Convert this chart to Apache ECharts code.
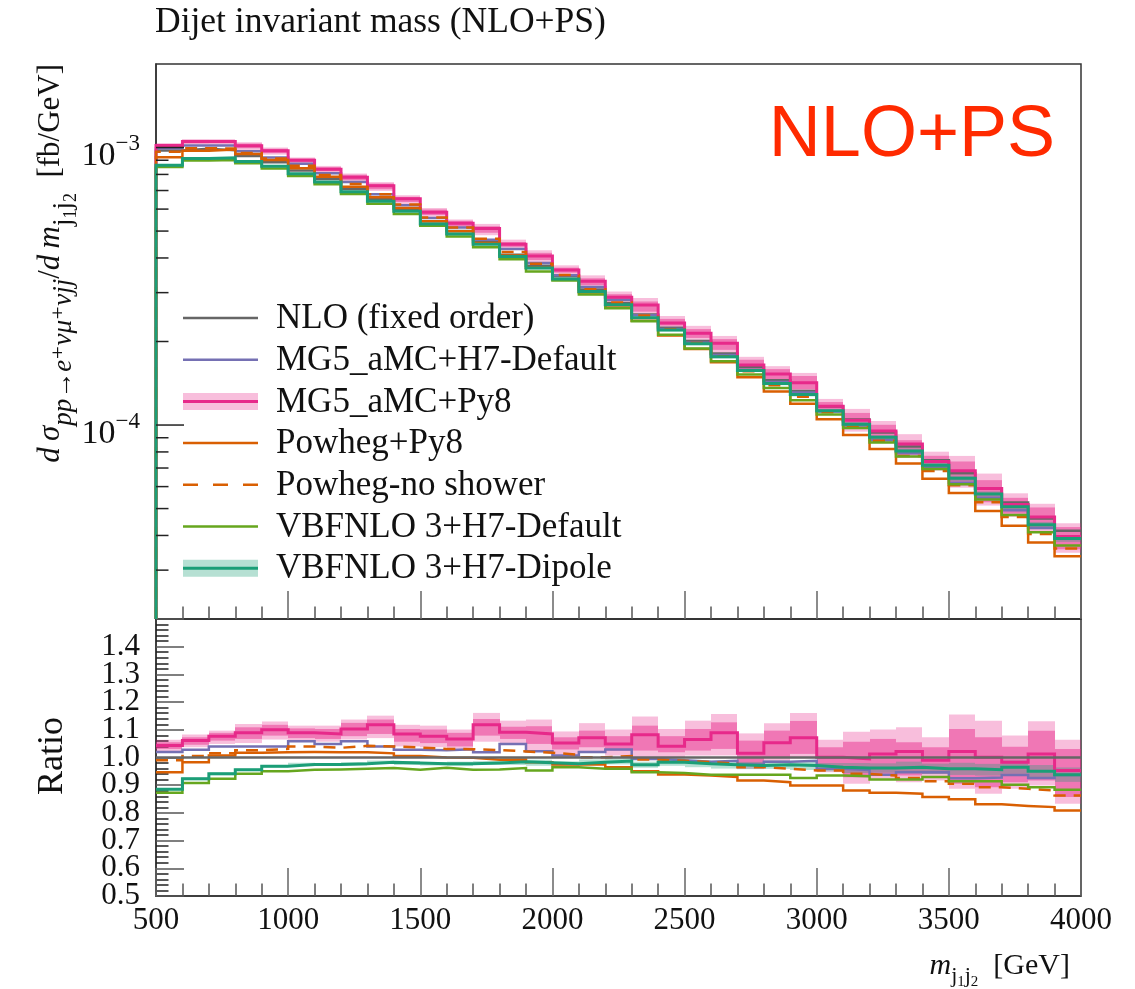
<!DOCTYPE html>
<html>
<head>
<meta charset="utf-8">
<title>Dijet invariant mass (NLO+PS)</title>
<script src="https://cdn.jsdelivr.net/npm/echarts@6/dist/echarts.min.js"></script>
<style>
  html, body { margin: 0; padding: 0; background: #ffffff; }
  #chart { width: 1135px; height: 989px; }
</style>
</head>
<body>
<div id="chart"></div>
<script>
// Bin edges of the m_j1j2 histogram [GeV]
const BIN_EDGES = [500, 600, 700, 800, 900, 1000, 1100, 1200, 1300, 1400, 1500, 1600,
  1700, 1800, 1900, 2000, 2100, 2200, 2300, 2400, 2500, 2600, 2700, 2800,
  2900, 3000, 3100, 3200, 3300, 3400, 3500, 3600, 3700, 3800, 3900, 4000];

// NLO fixed-order reference, d sigma / d m_j1j2 [fb/GeV]
const NLO = [9.75e-4, 9.90e-4, 9.77e-4, 9.32e-4, 8.85e-4, 8.26e-4, 7.70e-4,
  7.09e-4, 6.52e-4, 6.02e-4, 5.43e-4, 5.00e-4, 4.57e-4, 4.11e-4,
  3.75e-4, 3.44e-4, 3.08e-4, 2.75e-4, 2.50e-4, 2.24e-4, 2.01e-4,
  1.81e-4, 1.62e-4, 1.45e-4, 1.327e-4, 1.167e-4, 1.046e-4, 9.39e-5,
  8.36e-5, 7.47e-5, 6.70e-5, 5.90e-5, 5.26e-5, 4.60e-5, 4.16e-5];

// Ratios to the NLO prediction
const R_MG5_H7 = [1.020, 1.028, 1.040, 1.040, 1.040, 1.059, 1.049,
  1.059, 1.040, 1.028, 1.026, 1.030, 1.019, 1.049,
  1.023, 1.007, 1.020, 1.029, 0.995, 0.990, 0.985,
  0.988, 0.975, 0.985, 0.988, 0.959, 0.955, 0.938,
  0.947, 0.947, 0.925, 0.928, 0.937, 0.926, 0.937];

const R_MG5_PY8 = [1.043, 1.061, 1.077, 1.089, 1.100, 1.089, 1.085,
  1.103, 1.118, 1.085, 1.077, 1.067, 1.118, 1.091,
  1.085, 1.052, 1.071, 1.049, 1.082, 1.041, 1.065,
  1.089, 1.015, 1.053, 1.071, 1.001, 0.995, 1.013,
  1.022, 0.990, 1.022, 1.001, 0.983, 1.013, 0.953];

// MG5_aMC+Py8 uncertainty envelopes (outer and inner)
const R_MG5_PY8_OUT_LO = [1.021, 1.037, 1.049, 1.052, 1.065, 1.057, 1.057,
  1.065, 1.070, 1.040, 1.037, 1.025, 1.057, 1.049,
  1.025, 1.010, 1.019, 1.007, 1.001, 1.001, 1.007,
  1.007, 0.959, 0.983, 0.997, 0.947, 0.905, 0.923,
  0.911, 0.917, 0.887, 0.869, 0.887, 0.899, 0.833];
const R_MG5_PY8_OUT_HI = [1.064, 1.083, 1.097, 1.121, 1.130, 1.115, 1.115,
  1.137, 1.151, 1.118, 1.115, 1.101, 1.161, 1.133,
  1.137, 1.094, 1.124, 1.101, 1.148, 1.103, 1.133,
  1.157, 1.087, 1.124, 1.161, 1.064, 1.093, 1.101,
  1.109, 1.073, 1.155, 1.133, 1.079, 1.131, 1.064];
const R_MG5_PY8_IN_LO = [1.031, 1.046, 1.061, 1.067, 1.079, 1.070, 1.067,
  1.077, 1.085, 1.057, 1.052, 1.040, 1.079, 1.067,
  1.049, 1.029, 1.037, 1.025, 1.025, 1.019, 1.025,
  1.031, 0.977, 1.000, 1.013, 0.965, 0.929, 0.941,
  0.935, 0.941, 0.905, 0.893, 0.911, 0.917, 0.857];
const R_MG5_PY8_IN_HI = [1.055, 1.073, 1.089, 1.109, 1.118, 1.105, 1.103,
  1.125, 1.137, 1.103, 1.101, 1.089, 1.139, 1.111,
  1.113, 1.073, 1.097, 1.077, 1.115, 1.077, 1.103,
  1.127, 1.061, 1.097, 1.132, 1.037, 1.057, 1.067,
  1.055, 1.037, 1.103, 1.073, 1.039, 1.097, 1.031];

const R_POWHEG_PY8 = [0.947, 0.983, 1.007, 1.017, 1.019, 1.020, 1.019,
  1.019, 1.015, 1.005, 1.000, 0.999, 0.992, 0.993,
  0.983, 0.975, 0.975, 0.965, 0.950, 0.939, 0.935,
  0.930, 0.917, 0.911, 0.899, 0.899, 0.881, 0.873,
  0.869, 0.857, 0.849, 0.831, 0.825, 0.821, 0.809];

const R_POWHEG_NOSHOWER = [0.990, 1.005, 1.015, 1.026, 1.031, 1.040, 1.035,
  1.042, 1.040, 1.036, 1.031, 1.030, 1.027, 1.022,
  1.017, 1.010, 1.001, 1.005, 0.993, 0.988, 0.983,
  0.977, 0.965, 0.959, 0.953, 0.953, 0.941, 0.935,
  0.926, 0.914, 0.905, 0.893, 0.887, 0.881, 0.863];

const R_VBFNLO_DEFAULT = [0.873, 0.908, 0.923, 0.941, 0.950, 0.956, 0.957,
  0.959, 0.962, 0.956, 0.963, 0.956, 0.957, 0.962,
  0.953, 0.965, 0.959, 0.959, 0.947, 0.944, 0.938,
  0.938, 0.938, 0.938, 0.926, 0.935, 0.932, 0.921,
  0.921, 0.930, 0.914, 0.914, 0.902, 0.893, 0.884];

const R_VBFNLO_DIPOLE = [0.885, 0.923, 0.941, 0.956, 0.968, 0.975, 0.975,
  0.977, 0.983, 0.980, 0.977, 0.977, 0.980, 0.985,
  0.981, 0.977, 0.983, 0.987, 0.974, 0.983, 0.977,
  0.974, 0.971, 0.974, 0.971, 0.965, 0.962, 0.962,
  0.965, 0.959, 0.959, 0.956, 0.965, 0.950, 0.938];

// half width of the VBFNLO 3+H7-Dipole uncertainty band
const R_VBFNLO_DIPOLE_ERR = [0.004, 0.005, 0.005, 0.004, 0.005, 0.006, 0.005,
  0.006, 0.006, 0.007, 0.006, 0.008, 0.007, 0.012,
  0.011, 0.009, 0.010, 0.012, 0.011, 0.013, 0.012,
  0.014, 0.013, 0.015, 0.016, 0.015, 0.018, 0.017,
  0.020, 0.019, 0.022, 0.021, 0.024, 0.023, 0.026];

// Axis ranges and tick values
const X_MIN = 500, X_MAX = 4000, X_STEP = 500;
const Y_MIN = 2e-5, Y_MAX = 2e-3;
const LOG_MAJOR_TICKS = [1e-4, 1e-3];
const LOG_MINOR_TICKS = [3e-5, 4e-5, 5e-5, 6e-5, 7e-5, 8e-5, 9e-5,
  2e-4, 3e-4, 4e-4, 5e-4, 6e-4, 7e-4, 8e-4, 9e-4];
const RATIO_MIN = 0.5, RATIO_MAX = 1.5, RATIO_STEP = 0.1;
const RATIO_TICK_LABELS = ['0.5', '0.6', '0.7', '0.8', '0.9', '1.0', '1.1', '1.2', '1.3', '1.4'];

const LEGEND_LABELS = ['NLO (fixed order)', 'MG5_aMC+H7-Default', 'MG5_aMC+Py8',
  'Powheg+Py8', 'Powheg-no shower', 'VBFNLO 3+H7-Default', 'VBFNLO 3+H7-Dipole'];

// ---------------------------------------------------------------------------
const SERIF = "'Liberation Serif', 'DejaVu Serif', serif";
const PINK = '#e7298a', TEAL = '#1b9e77';
const PINK_BAND = 'rgba(231,41,138,0.30)';
const PINK_BAND_IN = 'rgba(231,41,138,0.48)';
const TEAL_BAND = 'rgba(27,158,119,0.32)';

const CURVES = [
  { ratio: NLO.map(() => 1), color: '#666666', width: 2.5 },
  { ratio: R_MG5_H7, color: '#7570b3', width: 2.5 },
  { ratio: R_MG5_PY8, color: PINK, width: 3, band: PINK_BAND },
  { ratio: R_POWHEG_PY8, color: '#d95f02', width: 2.5 },
  { ratio: R_POWHEG_NOSHOWER, color: '#d95f02', width: 2.5, dash: [12, 8] },
  { ratio: R_VBFNLO_DEFAULT, color: '#66a61e', width: 2.5 },
  { ratio: R_VBFNLO_DIPOLE, color: TEAL, width: 3, band: TEAL_BAND }
];

const times = (a, b) => a.map((v, i) => v * b[i]);

// histogram outline as left-edge points for a step line
function stepPoints(vals, lead) {
  const pts = [];
  if (lead !== undefined) pts.push([BIN_EDGES[0], lead]);
  vals.forEach((v, i) => pts.push([BIN_EDGES[i], v]));
  pts.push([BIN_EDGES[vals.length], vals[vals.length - 1]]);
  return pts;
}

function bandItems(lo, hi) {
  return lo.map((l, i) => [BIN_EDGES[i], BIN_EDGES[i + 1], l, hi[i]]);
}

function bandSeries(items, color, gi, z) {
  return {
    type: 'custom', xAxisIndex: gi, yAxisIndex: gi, data: items, silent: true, z,
    encode: { x: [0, 1], y: [2, 3] },
    renderItem(params, api) {
      const a = api.coord([api.value(0), api.value(3)]);
      const b = api.coord([api.value(1), api.value(2)]);
      const x0 = Math.round(a[0]), x1 = Math.round(b[0]);
      return { type: 'rect', shape: { x: x0, y: a[1], width: x1 - x0, height: b[1] - a[1] },
        style: { fill: color } };
    }
  };
}

function lineSeries(points, c, gi, z) {
  return {
    type: 'line', step: 'end', xAxisIndex: gi, yAxisIndex: gi, data: points,
    showSymbol: false, symbol: 'none', silent: true, clip: true, z,
    lineStyle: { color: c.color, width: c.width, type: c.dash || 'solid', cap: 'butt', join: 'miter' }
  };
}

function logTickSeries(values, len, color) {
  return {
    type: 'custom', xAxisIndex: 0, yAxisIndex: 0, silent: true, z: 30,
    data: values.map(v => [X_MIN, v]), encode: { x: 0, y: 1 },
    renderItem(params, api) {
      const p = api.coord([api.value(0), api.value(1)]);
      return { type: 'line', shape: { x1: p[0], y1: p[1], x2: p[0] + len, y2: p[1] },
        style: { stroke: color, lineWidth: 1.5 } };
    }
  };
}

// ratio-axis tick labels, placed at their values on the ratio axis
function ratioLabelSeries() {
  return {
    type: 'custom', xAxisIndex: 1, yAxisIndex: 1, silent: true, z: 30, clip: false,
    data: RATIO_TICK_LABELS.map(t => [X_MIN, parseFloat(t)]), encode: { x: 0, y: 1 },
    renderItem(params, api) {
      const p = api.coord([api.value(0), api.value(1)]);
      return { type: 'text', x: p[0] - 16, y: p[1],
        style: { text: RATIO_TICK_LABELS[params.dataIndex], fontFamily: SERIF, fontSize: 31,
          fill: '#111', align: 'right', verticalAlign: 'middle' } };
    }
  };
}

const series = [];
// uncertainty bands, upper panel (absolute) and ratio panel
const pinkOut = [R_MG5_PY8_OUT_LO, R_MG5_PY8_OUT_HI];
const pinkIn = [R_MG5_PY8_IN_LO, R_MG5_PY8_IN_HI];
const tealLo = R_VBFNLO_DIPOLE.map((v, i) => v - R_VBFNLO_DIPOLE_ERR[i]);
const tealHi = R_VBFNLO_DIPOLE.map((v, i) => v + R_VBFNLO_DIPOLE_ERR[i]);

series.push(bandSeries(bandItems(times(NLO, pinkOut[0]), times(NLO, pinkOut[1])), PINK_BAND, 0, 1));
series.push(bandSeries(bandItems(times(NLO, pinkIn[0]), times(NLO, pinkIn[1])), PINK_BAND_IN, 0, 2));
series.push(bandSeries(bandItems(times(NLO, tealLo), times(NLO, tealHi)), TEAL_BAND, 0, 3));
series.push(bandSeries(bandItems(pinkOut[0], pinkOut[1]), PINK_BAND, 1, 1));
series.push(bandSeries(bandItems(pinkIn[0], pinkIn[1]), PINK_BAND_IN, 1, 2));
series.push(bandSeries(bandItems(tealLo, tealHi), TEAL_BAND, 1, 3));

CURVES.forEach((c, k) => {
  series.push(lineSeries(stepPoints(times(NLO, c.ratio), Y_MIN), c, 0, 5 + k));
  series.push(lineSeries(stepPoints(c.ratio), c, 1, k === 0 ? 20 : 5 + k));
});

series.push(logTickSeries(LOG_MAJOR_TICKS, 28, '#222'));
series.push(logTickSeries(LOG_MINOR_TICKS, 12.5, '#222'));
series.push(ratioLabelSeries());

// ---------------------------------------------------------------------------
// Legend drawn as graphic elements
const LEG_X = 183, LEG_W = 75, LEG_TEXT_X = 276, LEG_TOP = 318, LEG_ROW = 41.7;
const legendEls = [];
LEGEND_LABELS.forEach((label, i) => {
  const c = CURVES[i];
  const y = LEG_TOP + i * LEG_ROW;
  if (c.band) {
    legendEls.push({ type: 'rect', shape: { x: LEG_X, y: y - 8.5, width: LEG_W, height: 17 },
      style: { fill: c.band } });
  }
  legendEls.push({ type: 'line', shape: { x1: LEG_X, y1: y, x2: LEG_X + LEG_W, y2: y },
    style: { stroke: c.color, lineWidth: c.width, lineDash: c.dash ? [15, 15] : null } });
  legendEls.push({ type: 'text', x: LEG_TEXT_X, y: y + 1,
    style: { text: label, fontFamily: SERIF, fontSize: 35, fill: '#111', align: 'left', verticalAlign: 'middle' } });
});

function mathRich(main, sub, subsub) {
  const base = { fontFamily: SERIF, verticalAlign: 'top', fill: '#111' };
  const subPad = Math.round(main * 0.47);
  return {
    it: Object.assign({}, base, { fontStyle: 'italic', fontSize: main, lineHeight: main }),
    up: Object.assign({}, base, { fontSize: main, lineHeight: main }),
    sub: Object.assign({}, base, { fontStyle: 'italic', fontSize: sub, lineHeight: sub, padding: [subPad, 0, 0, 0] }),
    sj: Object.assign({}, base, { fontSize: sub, lineHeight: sub, padding: [subPad, 0, 0, 0] }),
    ss: Object.assign({}, base, { fontSize: subsub, lineHeight: subsub, padding: [subPad + Math.round(sub * 0.45), 0, 0, 0] })
  };
}

const graphic = [
  { type: 'text', x: 155, y: 23, style: { text: 'Dijet invariant mass (NLO+PS)', fontFamily: SERIF,
      fontSize: 35.5, fill: '#111', align: 'left', verticalAlign: 'middle' } },
  { type: 'text', x: 1055, y: 136, style: { text: 'NLO+PS', fontFamily: "'Liberation Sans', Arial, sans-serif",
      fontSize: 72, fill: '#ff2a00', align: 'right', verticalAlign: 'middle' } },
  { type: 'text', x: 51, y: 64, rotation: Math.PI / 2, style: {
      text: '{it|d\u2009σ}{sub|pp→e⁺νμ⁺νjj}{up|/}{it|d\u2009m}{sj|j}{ss|1}{sj|j}{ss|2}{up|\u2002[fb/GeV]}',
      rich: mathRich(31, 27, 18), align: 'right', verticalAlign: 'middle' } },
  { type: 'text', x: 53, y: 756, rotation: Math.PI / 2, style: { text: 'Ratio', fontFamily: SERIF,
      fontSize: 36, fill: '#111', align: 'center', verticalAlign: 'middle' } },
  { type: 'text', x: 1070, y: 966, style: {
      text: '{it|m}{sj|j}{ss|1}{sj|j}{ss|2}{up|\u2002[GeV]}',
      rich: mathRich(30, 22, 15), align: 'right', verticalAlign: 'middle' } },
  { type: 'group', children: legendEls }
];

// ---------------------------------------------------------------------------
const FRAME = '#333';
const xAxisBase = {
  type: 'value', min: X_MIN, max: X_MAX, interval: X_STEP,
  axisLine: { show: true, lineStyle: { color: FRAME, width: 1.5 } },
  axisTick: { show: true, inside: true, length: 28, lineStyle: { color: '#666', width: 1.5 } },
  minorTick: { show: true, splitNumber: 5, length: 12.5, lineStyle: { color: '#555', width: 1.5 } },
  splitLine: { show: false }, minorSplitLine: { show: false }
};

const option = {
  animation: false,
  backgroundColor: '#ffffff',
  textStyle: { fontFamily: SERIF },
  grid: [
    { left: 156, top: 64, width: 925, height: 555, show: true, borderColor: FRAME, borderWidth: 1.5, backgroundColor: 'transparent' },
    { left: 156, top: 619, width: 925, height: 277, show: true, borderColor: FRAME, borderWidth: 1.5, backgroundColor: 'transparent' }
  ],
  xAxis: [
    Object.assign({ gridIndex: 0, axisLabel: { show: false } }, xAxisBase),
    Object.assign({ gridIndex: 1, axisLabel: { show: true, fontFamily: SERIF, fontSize: 31, color: '#111', margin: 9,
      formatter: v => String(Math.round(v)) } }, xAxisBase)
  ],
  yAxis: [
    {
      gridIndex: 0, type: 'log', logBase: 10, min: Y_MIN, max: Y_MAX,
      axisLine: { show: true, lineStyle: { color: FRAME, width: 1.5 } },
      axisTick: { show: false }, splitLine: { show: false },
      axisLabel: {
        show: true, margin: 16, showMinLabel: true, showMaxLabel: true,
        formatter(v) {
          const l = Math.log10(v), e = Math.round(l);
          if (Math.abs(l - e) > 1e-6) return '';
          return '{b|10}{s|' + (e < 0 ? '\u2212' + (-e) : e) + '}';
        },
        rich: {
          b: { fontFamily: SERIF, fontSize: 34, lineHeight: 34, padding: [9, 0, 0, 0], verticalAlign: 'top', color: '#111' },
          s: { fontFamily: SERIF, fontSize: 23, lineHeight: 23, padding: [2, 0, 0, 0], verticalAlign: 'top', color: '#111' }
        }
      }
    },
    {
      gridIndex: 1, type: 'value', min: RATIO_MIN, max: RATIO_MAX, interval: RATIO_STEP,
      axisLine: { show: true, lineStyle: { color: FRAME, width: 1.5 } },
      axisTick: { show: true, inside: true, length: 28, lineStyle: { color: '#555', width: 1.5 } },
      minorTick: { show: true, splitNumber: 5, length: 12.5, lineStyle: { color: '#222', width: 1.5 } },
      splitLine: { show: false }, minorSplitLine: { show: false },
      axisLabel: { show: false }
    }
  ],
  graphic,
  series
};

const chart = echarts.init(document.getElementById('chart'), null, { renderer: 'canvas' });
chart.setOption(option);
</script>
</body>
</html>
